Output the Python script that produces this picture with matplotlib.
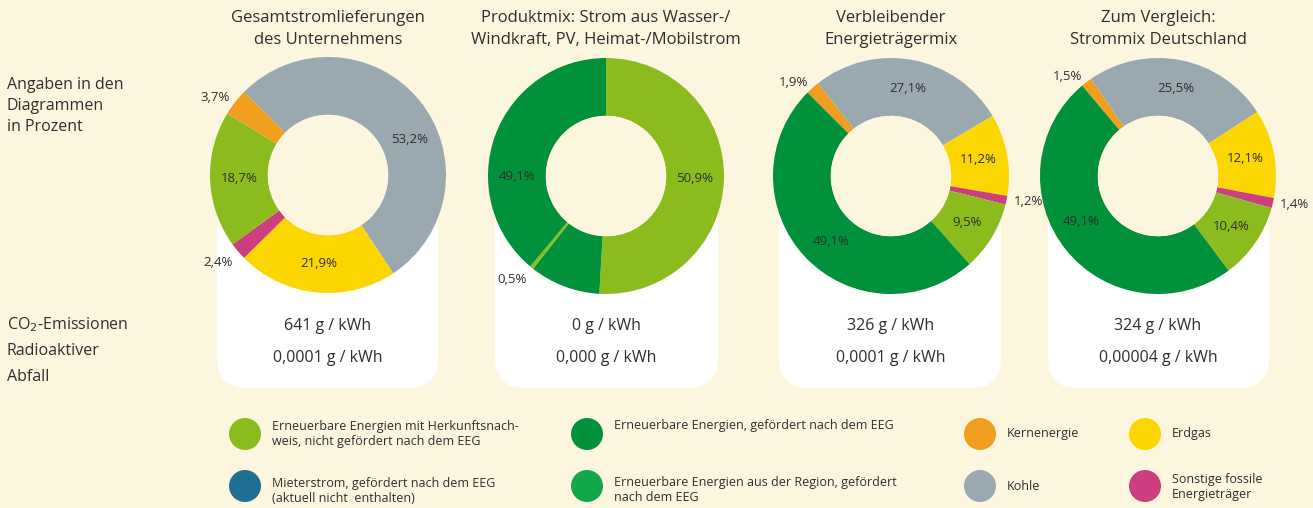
import matplotlib
matplotlib.use('Agg')
import matplotlib.pyplot as plt
import numpy as np
from matplotlib.patches import FancyBboxPatch, Circle

# Colours
BG = '#FDF6DE'
TXT = '#2E2E2E'
C_LIGHT = '#8CBB1E'
C_DARK = '#00913A'
C_ORANGE = '#F29E1F'
C_YELLOW = '#FCD600'
C_GRAY = '#9AA8B0'
C_PINK = '#CB3F7E'
C_BLUE = '#1F6F92'
C_REGION = '#12A84A'

# Chart data (wedges listed clockwise from the start angle)
titles = ["Gesamtstromlieferungen\ndes Unternehmens",
          "Produktmix: Strom aus Wasser-/\nWindkraft, PV, Heimat-/Mobilstrom",
          "Verbleibender\nEnergieträgermix",
          "Zum Vergleich:\nStrommix Deutschland"]

mix1_values = [53.2, 21.9, 2.4, 18.7, 3.7]
mix1_colors = [C_GRAY, C_YELLOW, C_PINK, C_LIGHT, C_ORANGE]
mix1_labels = ["53,2%", "21,9%", "2,4%", "18,7%", "3,7%"]

# dark green 49,1 % is split by the 0,5 % sliver
mix2_values = [50.9, 9.7, 0.5, 38.9]
mix2_colors = [C_LIGHT, C_DARK, C_LIGHT, C_DARK]
mix2_labels = ["50,9%", "49,1%", "0,5%", None]

mix3_values = [1.9, 27.1, 11.2, 1.2, 9.5, 49.1]
mix3_colors = [C_ORANGE, C_GRAY, C_YELLOW, C_PINK, C_LIGHT, C_DARK]
mix3_labels = ["1,9%", "27,1%", "11,2%", "1,2%", "9,5%", "49,1%"]

mix4_values = [1.5, 25.5, 12.1, 1.4, 10.4, 49.1]
mix4_colors = [C_ORANGE, C_GRAY, C_YELLOW, C_PINK, C_LIGHT, C_DARK]
mix4_labels = ["1,5%", "25,5%", "12,1%", "1,4%", "10,4%", "49,1%"]

co2_values = ["641 g / kWh", "0 g / kWh", "326 g / kWh", "324 g / kWh"]
waste_values = ["0,0001 g / kWh", "0,000 g / kWh", "0,0001 g / kWh", "0,00004 g / kWh"]

legend_labels = ["Erneuerbare Energien mit Herkunftsnach-\nweis, nicht gefördert nach dem EEG",
                 "Erneuerbare Energien, gefördert nach dem EEG",
                 "Kernenergie", "Erdgas",
                 "Mieterstrom, gefördert nach dem EEG\n(aktuell nicht  enthalten)",
                 "Erneuerbare Energien aus der Region, gefördert\nnach dem EEG",
                 "Kohle", "Sonstige fossile\nEnergieträger"]
legend_colors = [C_LIGHT, C_DARK, C_ORANGE, C_YELLOW, C_BLUE, C_REGION, C_GRAY, C_PINK]

# Layout (pixels)
W, H = 1313, 508
centers = [(328, 175), (606, 176), (891, 176), (1158, 176)]
radius = 118
start_angles = [135.3, 90, 135, 130]
boxes = [(217, 438), (495, 718), (779, 1001), (1048, 1269)]
label_nudge = {(0, 0): -16, (2, 5): 4, (3, 5): -8, (1, 1): 2}  # degrees
legend_dy = [0, -8, 0, 0, 5, 4, 1, 1]

plt.rcParams['font.family'] = ['Open Sans', 'DejaVu Sans']

fig = plt.figure(figsize=(W / 100, H / 100), dpi=100, facecolor=BG)
bg = fig.add_axes([0, 0, 1, 1])
bg.set_xlim(0, W)
bg.set_ylim(H, 0)
bg.axis('off')
bg.set_facecolor(BG)

# white boxes behind the donuts
for x0, x1 in boxes:
    bg.add_patch(FancyBboxPatch((x0 + 30, 200), x1 - x0 - 60, 158,
                                boxstyle="round,pad=30", fc='white', ec='none'))

# left side captions
for txt, y in [("Angaben in den", 85), ("Diagrammen", 106), ("in Prozent", 127),
               ("CO$_2$-Emissionen", 325), ("Radioaktiver", 351), ("Abfall", 377)]:
    bg.text(7, y, txt, fontsize=11.5, color=TXT, va='center', ha='left')

mixes = [(mix1_values, mix1_colors, mix1_labels),
         (mix2_values, mix2_colors, mix2_labels),
         (mix3_values, mix3_colors, mix3_labels),
         (mix4_values, mix4_colors, mix4_labels)]

for i, ((vals, cols, labs), (cx, cy)) in enumerate(zip(mixes, centers)):
    bg.text(cx, 18, titles[i].split('\n')[0], fontsize=12, color=TXT, ha='center', va='center')
    bg.text(cx, 40, titles[i].split('\n')[1], fontsize=12, color=TXT, ha='center', va='center')
    bg.text(cx, 326, co2_values[i], fontsize=11.5, color=TXT, ha='center', va='center')
    bg.text(cx, 358, waste_values[i], fontsize=11.5, color=TXT, ha='center', va='center')

    ax = fig.add_axes([(cx - radius) / W, 1 - (cy + radius) / H,
                       2 * radius / W, 2 * radius / H])
    wedges, _ = ax.pie(vals, colors=cols, startangle=start_angles[i], counterclock=False,
                       radius=1, wedgeprops=dict(width=0.49, linewidth=0))
    ax.add_patch(Circle((0, 0), 0.51, fc=BG, ec='none'))
    ax.set_xlim(-1, 1)
    ax.set_ylim(-1, 1)

    for j, w in enumerate(wedges):
        if labs[j] is None:
            continue
        t1, t2 = w.theta1, w.theta2
        if i == 1 and j == 1:
            # label the whole dark green share
            t1 = wedges[3].theta1
        ang = (t1 + t2) / 2 + label_nudge.get((i, j), 0)
        mid = np.deg2rad(ang)
        share = vals[j] / sum(vals)
        c, s = np.cos(mid), np.sin(mid)
        if share < 0.05:
            r = 1.06
            ha = 'left' if c > 0 else 'right'
            va = 'top' if s < -0.6 else 'center'
        else:
            r = 0.755
            ha, va = 'center', 'center'
        ax.text(r * c, r * s, labs[j], fontsize=9.5, color=TXT,
                ha=ha, va=va, clip_on=False)

# legend
leg_x = [245, 587, 980, 1145]
leg_y = [434, 486]
for k, (lab, col) in enumerate(zip(legend_labels, legend_colors)):
    x = leg_x[k % 4]
    y = leg_y[k // 4]
    bg.add_patch(Circle((x, y), 16, fc=col, ec='none'))
    bg.text(x + 27, y + legend_dy[k], lab, fontsize=9, color=TXT,
            ha='left', va='center', linespacing=1.2)

fig.savefig('out.png', dpi=100, facecolor=BG)
